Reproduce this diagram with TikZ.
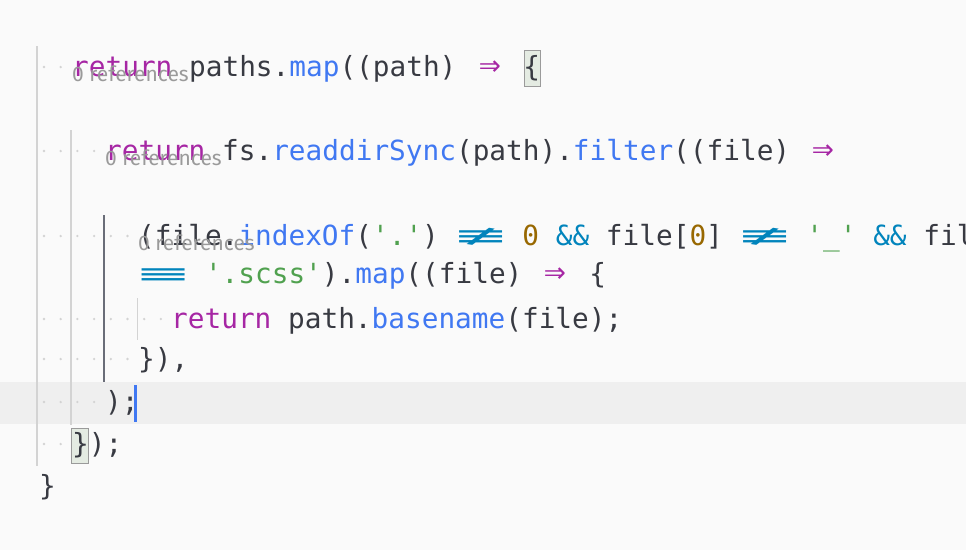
\documentclass[tikz,border=0pt]{standalone}
\usepackage{fontspec}
\setmonofont{DejaVu Sans Mono}
\setsansfont{Fira Sans}
\definecolor{bgc}{HTML}{FAFAFA}
\definecolor{curline}{HTML}{EFEFEF}
\definecolor{plain}{HTML}{383A42}
\definecolor{kw}{HTML}{A626A4}
\definecolor{fn}{HTML}{4078F2}
\definecolor{str}{HTML}{50A14F}
\definecolor{num}{HTML}{986801}
\definecolor{op}{HTML}{0184BC}
\definecolor{guide}{HTML}{D3D3D3}
\definecolor{guideact}{HTML}{6A6D78}
\definecolor{lens}{HTML}{9A9A9A}
\definecolor{match}{HTML}{E4EBE2}
\newlength{\cw}
\setlength{\cw}{16.7pt}
\newcommand{\lig}[2]{\makebox[#1\cw]{\scalebox{#1}[1]{#2}}}
\newcommand{\arr}{\makebox[2\cw]{\scalebox{1.3}{⇒}}}
\newcommand{\K}[1]{\textcolor{kw}{#1}}
\newcommand{\F}[1]{\textcolor{fn}{#1}}
\newcommand{\St}[1]{\textcolor{str}{#1}}
\newcommand{\N}[1]{\textcolor{num}{#1}}
\newcommand{\Op}[1]{\textcolor{op}{#1}}
\begin{document}
\begin{tikzpicture}[x=1pt,y=-1pt,
    code/.style={anchor=base west,inner sep=0pt,font=\ttfamily\fontsize{27.75}{27}\selectfont,text=plain},
    refs/.style={anchor=base west,inner sep=0pt,font=\sffamily\fontsize{21}{21}\selectfont,text=lens},
    ws/.style={fill=guide,circle,inner sep=0pt,minimum size=2.6pt},
    guideline/.style={draw=guide,line width=1.5pt}]
  \useasboundingbox (0,0) rectangle (966,550);
  \clip (0,0) rectangle (966,550);
  \fill[bgc] (0,0) rectangle (966,550);
  \fill[curline] (0,382) rectangle (966,424);

  % indent guides
  \draw[guideline] (37,46) -- (37,466);
  \draw[guideline] (71,130) -- (71,425);
  \draw[draw=guideact,line width=1.8pt] (104,215) -- (104,382);
  \draw[guideline,line width=1pt] (137,298) -- (137,340);

  % whitespace dots
  \foreach \row/\n in {67/2,151/4,236/6,319/8,359/6,402/4,444/2}{
    \foreach \i in {1,...,\n}{
      \node[ws] at ({39+16.7*(\i-1)+5},\row) {};
    }
  }

  % bracket matches
  \fill[match,draw=lens,line width=0.8pt] (524,50) rectangle (540,86);
  \fill[match,draw=lens,line width=0.8pt] (71,428) rectangle (88,463);

  % code lines
  \node[code] (l1) at (72,76) {\K{return} paths.\F{map}((path) \K{\arr} \{};
  \node[code] (l2) at (105,160) {\K{return} fs.\F{readdirSync}(path).\F{filter}((file) \K{\arr}};
  \node[code] (l3) at (138,245) {(file.\F{indexOf}(\St{'.'}) \Op{\lig{3}{≢}} \N{0} \Op{\&\&} file[\N{0}] \Op{\lig{3}{≢}} \St{'\_'} \Op{\&\&} file};
  \node[code] (l4) at (138,283) {\Op{\lig{3}{≡}} \St{'.scss'}).\F{map}((file) \K{\arr} \{};
  \node[code] (l5) at (171,328) {\K{return} path.\F{basename}(file);};
  \node[code] (l6) at (138,368) {\}),};
  \node[code] (l7) at (105,411) {);};
  \node[code] (l8) at (72,453) {\});};
  \node[code] (l9) at (39,495) {\}};

  % code lens
  \node[refs] (r1) at (72,81) {0 references};
  \node[refs] (r2) at (105,165) {0 references};
  \node[refs] (r3) at (138,250) {0 references};

  % cursor
  \draw[fn,line width=2.5pt] (135.5,385) -- (135.5,422);
\end{tikzpicture}
\end{document}
